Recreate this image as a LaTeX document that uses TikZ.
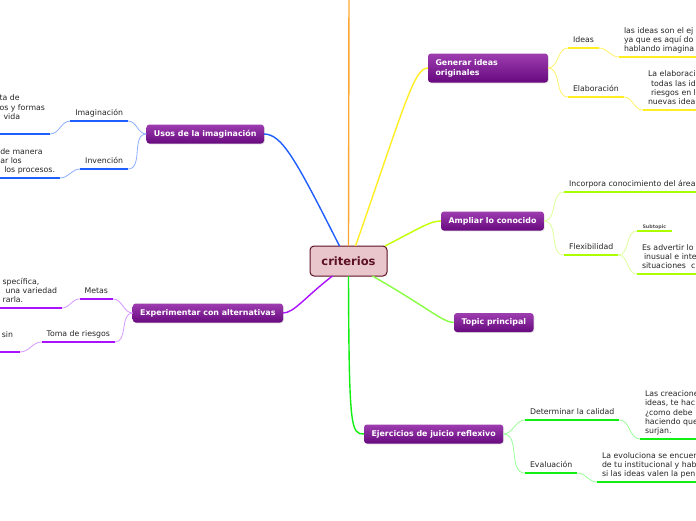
\documentclass[tikz,border=0pt]{standalone}
\usepackage{fontspec}
\setmainfont{DejaVu Sans}
\usepackage{tikz}
\usetikzlibrary{positioning, shadows, calc}
\usepackage{xcolor}

\definecolor{topicA}{HTML}{9D3DB0}
\definecolor{topicB}{HTML}{68097F}
\definecolor{critfill}{HTML}{E8C6CC}
\definecolor{critline}{HTML}{5C1022}
\definecolor{orangeln}{HTML}{FFA630}
\definecolor{yellowln}{HTML}{FFEE22}
\definecolor{yellowlt}{HTML}{FFF36B}
\definecolor{limeln}{HTML}{AAFF00}
\definecolor{limelt}{HTML}{DDFF99}
\definecolor{greenln}{HTML}{11EE11}
\definecolor{greenlt}{HTML}{99FF99}
\definecolor{tpln}{HTML}{88FF44}
\definecolor{blueln}{HTML}{1F5EFF}
\definecolor{bluelt}{HTML}{8FB0FF}
\definecolor{violetln}{HTML}{AA11FF}
\definecolor{violetlt}{HTML}{D699FF}

\tikzset{
    topic/.style={rounded corners=3pt, top color=topicA, bottom color=topicB,
        text=white, font=\bfseries\fontsize{7.9}{10}\selectfont,
        inner xsep=7.5pt, inner ysep=0pt, minimum height=19pt, outer sep=0pt,
        drop shadow={opacity=0.25, shadow xshift=0.8pt, shadow yshift=-0.8pt}},
    sub/.style={font=\fontsize{7.8}{9.4}\selectfont, text=black!85, inner xsep=5pt,
        inner ysep=3.5pt, text depth=1.6pt, outer sep=0pt, align=left},
    uline/.style={line width=2.4pt},
    branch/.style={line width=1.4pt},
    twig/.style={line width=0.8pt},
}

\begin{document}
\begin{tikzpicture}[x=1pt, y=-1pt]
    \useasboundingbox (0,0) rectangle (696,520);
    \fill[white] (0,0) rectangle (696,520);
    \clip (0,0) rectangle (696,520);

    % Central topic
    \node[draw=critline, fill=critfill, line width=1pt, rounded corners=4pt,
        text=critline, font=\bfseries\fontsize{11.5}{14}\selectfont,
        minimum width=77pt, minimum height=30pt, outer sep=0pt] (crit) at (348.5,261) {criterios};
    \coordinate (up) at (349,-10);

    % Main topics
    \node[topic, anchor=west, text width=105pt, align=left, minimum height=29pt] (gen) at (428,68) {Generar ideas\\originales};
    \node[topic, anchor=west] (ampl) at (441,221) {Ampliar lo conocido};
    \node[topic, anchor=west] (tp) at (454,322.5) {Topic principal};
    \node[topic, anchor=west] (ejer) at (364,434) {Ejercicios de juicio reflexivo};
    \node[topic, anchor=east] (usos) at (264,134) {Usos de la imaginación};
    \node[topic, anchor=east] (exper) at (283,313) {Experimentar con alternativas};

    % Branches from the centre
    \draw[branch, orangeln] (crit.north) -- (up);
    \draw[branch, blueln] ([xshift=-9pt]crit.north) .. controls (296,160) and (282,134) .. (usos.east);
    \draw[branch, yellowln] ([xshift=7pt]crit.north) .. controls (405,104) and (414,68) .. (gen.west);
    \draw[branch, limeln!70!yellow] ([xshift=-2pt]crit.north east) .. controls (420,228) and (430,221) .. (ampl.west);
    \draw[branch, tpln] ([xshift=24pt]crit.south) .. controls (430,309) and (443,322.5) .. (tp.west);
    \draw[branch, violetln] ([xshift=-16pt]crit.south) .. controls (305,297) and (294,313) .. (exper.east);
    \draw[branch, greenln] (crit.south) .. controls (349,430) and (351,434) .. (ejer.west);

    % Generar ideas originales
    \node[sub, anchor=south west] (ideas) at (568,48) {Ideas};
    \node[sub, anchor=south west] (elab) at (568,97) {Elaboración};
    \node[sub, anchor=south west] (ideasL) at (619,57) {las ideas son el ej\\ya que es aquí do\\hablando imagina};
    \node[sub, anchor=south west] (elabL) at (643,110) {La elaboraci\\\hspace*{3pt}todas las id\\\hspace*{3pt}riesgos en l\\nuevas idea};
    \draw[twig, yellowlt] (gen.east) to[out=0,in=180] (ideas.south west);
    \draw[twig, yellowlt] (gen.east) to[out=0,in=180] (elab.south west);
    \draw[twig, yellowlt] (ideas.south east) to[out=0,in=180] (ideasL.south west);
    \draw[twig, yellowlt] (elab.south east) to[out=0,in=180] (elabL.south west);
    \draw[uline, yellowln] (ideas.south west) -- (ideas.south east);
    \draw[uline, yellowln] (elab.south west) -- (elab.south east);
    \draw[uline, yellowln] (ideasL.south west) -- ++(100,0);
    \draw[uline, yellowln] (elabL.south west) -- ++(100,0);

    % Ampliar lo conocido
    \node[sub, anchor=south west] (incorp) at (564,192) {Incorpora conocimiento del área};
    \node[sub, anchor=south west] (flex) at (564,255) {Flexibilidad};
    \node[sub, anchor=south west, font=\bfseries\fontsize{4.8}{6}\selectfont, text=black!65,
        inner xsep=5.5pt, inner ysep=1.5pt, text depth=1pt] (subt) at (637,231) {Subtopic};
    \node[sub, anchor=south west] (flexL) at (637,274) {Es advertir lo\\\hspace*{2pt}inusual e inte\\situaciones\ \ c};
    \draw[twig, limelt] (ampl.east) to[out=0,in=180] (incorp.south west);
    \draw[twig, limelt] (ampl.east) to[out=0,in=180] (flex.south west);
    \draw[twig, limelt] (flex.south east) to[out=0,in=180] (subt.south west);
    \draw[twig, limelt] (flex.south east) to[out=0,in=180] (flexL.south west);
    \draw[uline, limeln] (incorp.south west) -- ++(140,0);
    \draw[uline, limeln] (flex.south west) -- (flex.south east);
    \draw[uline, limeln] (subt.south west) -- (subt.south east);
    \draw[uline, limeln] (flexL.south west) -- ++(100,0);

    % Ejercicios de juicio reflexivo
    \node[sub, anchor=south west] (determ) at (525,420) {Determinar la calidad};
    \node[sub, anchor=south west] (eval) at (525,473) {Evaluación};
    \node[sub, anchor=south west] (determL) at (640,439) {Las creacione\\ideas, te hac\\¿como debe\\haciendo que\\surjan.};
    \node[sub, anchor=south west] (evalL) at (597,482) {La evoluciona se encuen\\de tu institucional y hab\\si las ideas valen la pen};
    \draw[twig, greenlt] (ejer.east) to[out=0,in=180] (determ.south west);
    \draw[twig, greenlt] (ejer.east) to[out=0,in=180] (eval.south west);
    \draw[twig, greenlt] (determ.south east) to[out=0,in=180] (determL.south west);
    \draw[twig, greenlt] (eval.south east) to[out=0,in=180] (evalL.south west);
    \draw[uline, greenln] (determ.south west) -- (determ.south east);
    \draw[uline, greenln] (eval.south west) -- (eval.south east);
    \draw[uline, greenln] (determL.south west) -- ++(100,0);
    \draw[uline, greenln] (evalL.south west) -- ++(120,0);

    % Usos de la imaginación
    \node[sub, anchor=south east] (imag) at (128,121) {Imaginación};
    \node[sub, anchor=south east] (inv) at (128,169) {Invención};
    \node[sub, anchor=south east] (imagL) at (50,134) {ta de\\os y formas\\\hspace*{4pt}vida\\\mbox{}};
    \node[sub, anchor=south east] (invL) at (60,178) {de manera\\ar los\\\hspace*{4pt}los procesos.};
    \draw[twig, bluelt] (usos.west) to[out=180,in=0] (imag.south east);
    \draw[twig, bluelt] (usos.west) to[out=180,in=0] (inv.south east);
    \draw[twig, bluelt] (imag.south west) to[out=180,in=0] (imagL.south east);
    \draw[twig, bluelt] (inv.south west) to[out=180,in=0] (invL.south east);
    \draw[uline, blueln] (imag.south west) -- (imag.south east);
    \draw[uline, blueln] (inv.south west) -- (inv.south east);
    \draw[uline, blueln] (imagL.south east) -- ++(-80,0);
    \draw[uline, blueln] (invL.south east) -- ++(-80,0);

    % Experimentar con alternativas
    \node[sub, anchor=south east] (metas) at (113,299) {Metas};
    \node[sub, anchor=south east] (toma) at (115,342) {Toma de riesgos};
    \node[sub, anchor=south east] (metasL) at (62,308) {specífica,\\\hspace*{3pt}una variedad\\rarla.};
    \node[sub, anchor=south east] (tomaL) at (20,352) {e sin\hspace*{2pt}\\\mbox{}};
    \draw[twig, violetlt] (exper.west) to[out=180,in=0] (metas.south east);
    \draw[twig, violetlt] (exper.west) to[out=180,in=0] (toma.south east);
    \draw[twig, violetlt] (metas.south west) to[out=180,in=0] (metasL.south east);
    \draw[twig, violetlt] (toma.south west) to[out=180,in=0] (tomaL.south east);
    \draw[uline, violetln] (metas.south west) -- (metas.south east);
    \draw[uline, violetln] (toma.south west) -- (toma.south east);
    \draw[uline, violetln] (metasL.south east) -- ++(-80,0);
    \draw[uline, violetln] (tomaL.south east) -- ++(-80,0);

\end{tikzpicture}
\end{document}
